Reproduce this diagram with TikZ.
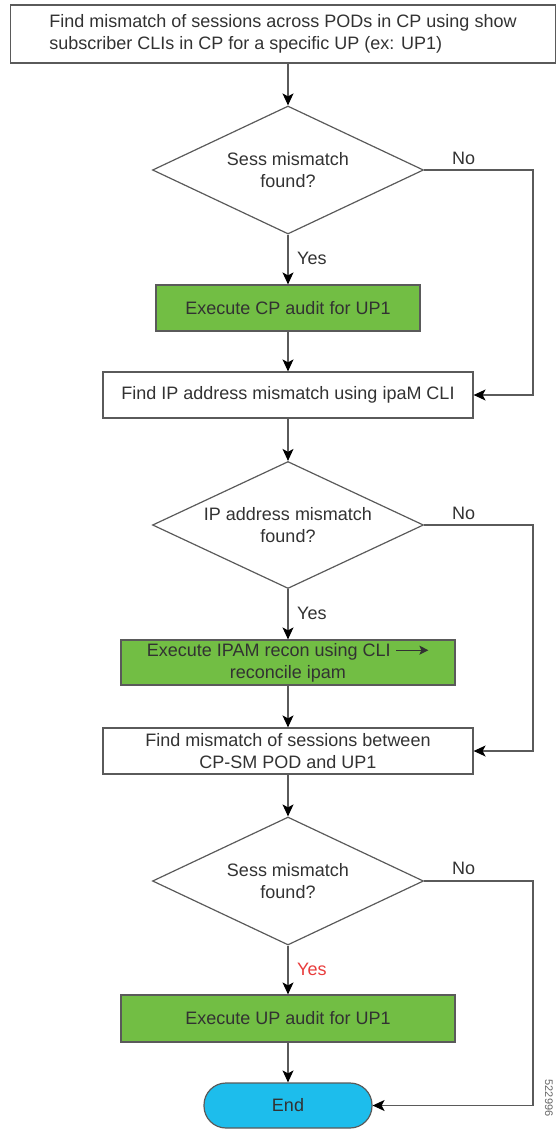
\documentclass[tikz,border=0pt]{standalone}
\usepackage{fontspec}
\setmainfont{Liberation Sans}
\usetikzlibrary{shapes.geometric,arrows.meta}
\definecolor{boxgreen}{RGB}{114,190,68}
\definecolor{endblue}{RGB}{29,189,236}
\definecolor{txt}{RGB}{50,50,50}
\definecolor{ln}{RGB}{90,90,90}
\definecolor{yesred}{RGB}{232,60,60}
\newcommand{\longarrowglyph}{\tikz[baseline=-0.33em]\draw[line width=1.4pt, -{Stealth[length=9pt,width=9pt,inset=2pt]}] (0,0) -- (32pt,0);}
\begin{document}
\begin{tikzpicture}[x=1pt,y=-1pt,
  font=\fontsize{18}{22}\selectfont, text=txt,
  procbox/.style={draw=ln, line width=1.2pt, rectangle, minimum height=46pt, inner sep=0pt, align=center},
  greenbox/.style={procbox, fill=boxgreen},
  decision/.style={draw=ln, line width=1.2pt, diamond, shape aspect=2.1, minimum width=271pt, minimum height=128pt, inner sep=0pt, align=center},
  terminal/.style={draw=ln, line width=1.2pt, rectangle, rounded corners=22pt, fill=endblue, minimum width=168pt, minimum height=45pt, inner sep=0pt},
  flow/.style={draw=ln, line width=1.2pt, -{Stealth[length=12pt,width=11pt,inset=3pt,color=black]}},
  lbl/.style={inner sep=0pt, text=txt},
]
\path[use as bounding box] (0,0) rectangle (556,1130);

\node[procbox, minimum width=545pt, minimum height=58pt, align=left] (top) at (283,34)
  {Find mismatch of sessions across PODs in CP using show\\subscriber CLIs in CP for a specific UP (ex: UP1)};
\node[decision] (d1) at (288,170) {Sess mismatch\\found?};
\node[greenbox, minimum width=264pt] (g1) at (288,308) {Execute CP audit for UP1};
\node[procbox, minimum width=370pt] (f2) at (288,395) {Find IP address mismatch using ipaM CLI};
\node[decision, minimum height=127pt] (d2) at (288,525) {IP address mismatch\\found?};
\node[greenbox, minimum width=334pt, minimum height=45pt] (g2) at (288,662.5)
  {Execute IPAM recon using CLI \longarrowglyph\\reconcile ipam};
\node[procbox, minimum width=370pt] (f3) at (288,751)
  {Find mismatch of sessions between\\CP-SM POD and UP1};
\node[decision] (d3) at (288,881) {Sess mismatch\\found?};
\node[greenbox, minimum width=334pt, minimum height=47pt] (g3) at (288,1018.5) {Execute UP audit for UP1};
\node[terminal] (end) at (288,1105.5) {End};

\coordinate (c1a) at (533,170);
\coordinate (c1b) at (533,395);
\coordinate (c2a) at (533,525);
\coordinate (c2b) at (533,751);
\coordinate (c3a) at (533,881);
\coordinate (c3b) at (533,1105.5);

\draw[flow] (d1.north |- top.south) -- (d1.north);
\draw[flow] (d1.south) -- (g1.north);
\draw[flow] (g1.south) -- (f2.north);
\draw[flow] (d1.east) -- (c1a) -- (c1b) -- (f2.east);
\draw[flow] (f2.south) -- (d2.north);
\draw[flow] (d2.south) -- (g2.north);
\draw[flow] (g2.south) -- (f3.north);
\draw[flow] (d2.east) -- (c2a) -- (c2b) -- (f3.east);
\draw[flow] (f3.south) -- (d3.north);
\draw[flow] (d3.south) -- (g3.north);
\draw[flow] (g3.south) -- (end.north);
\draw[flow] (d3.east) -- (c3a) -- (c3b) -- (end.east);

\node[lbl, anchor=west] (n1) at (452,158) {No};
\node[lbl, anchor=west] (y1) at (297,258) {Yes};
\node[lbl, anchor=west] (n2) at (452,513) {No};
\node[lbl, anchor=west] (y2) at (297,613) {Yes};
\node[lbl, anchor=west] (n3) at (452,868) {No};
\node[lbl, anchor=west, text=yesred] (y3) at (297,969) {Yes};
\node[lbl, rotate=-90, font=\fontsize{11}{13}\selectfont, text=black!60] (fig) at (549,1098) {522996};
\end{tikzpicture}
\end{document}
